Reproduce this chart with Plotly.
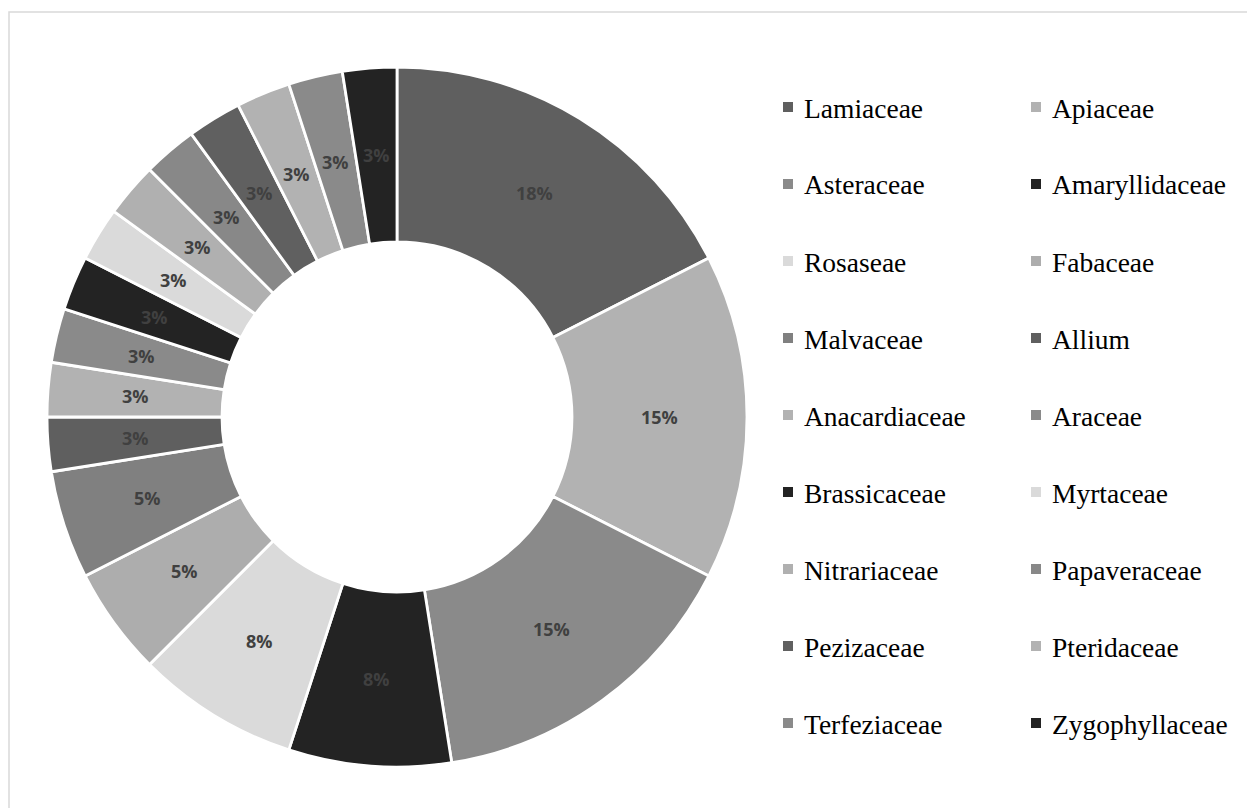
import math
import plotly.graph_objects as go

families = ["Lamiaceae", "Apiaceae", "Asteraceae", "Amaryllidaceae", "Rosaseae",
            "Fabaceae", "Malvaceae", "Allium", "Anacardiaceae", "Araceae",
            "Brassicaceae", "Myrtaceae", "Nitrariaceae", "Papaveraceae",
            "Pezizaceae", "Pteridaceae", "Terfeziaceae", "Zygophyllaceae"]
counts = [7, 6, 6, 3, 3, 2, 2, 1, 1, 1, 1, 1, 1, 1, 1, 1, 1, 1]
colors = ["#5f5f5f", "#b2b2b2", "#8a8a8a", "#232323", "#dadada",
          "#adadad", "#808080", "#5f5f5f", "#b2b2b2", "#8a8a8a",
          "#232323", "#dadada", "#b0b0b0", "#888888", "#606060",
          "#b2b2b2", "#8a8a8a", "#232323"]

W, H = 1247, 808
total = sum(counts)
pct_text = [f"{(200 * v + total) // (2 * total)}%" for v in counts]

cx, cy, R = 397, 417, 350
HOLE = 0.5

fig = go.Figure(go.Pie(
    labels=families, values=counts, text=pct_text, textinfo="none",
    sort=False, direction="clockwise", rotation=0, hole=HOLE,
    marker=dict(colors=colors, line=dict(color="white", width=2.8)),
    domain=dict(x=[(cx - R) / W, (cx + R) / W], y=[(H - cy - R) / H, (H - cy + R) / H]),
    showlegend=False, hoverinfo="label+value+percent",
))

annotations = []
# percentage labels placed at the middle of the ring, from cumulative shares
r_mid = R * (1 + HOLE) / 2
cum = 0
for v, t in zip(counts, pct_text):
    ang = 2 * math.pi * (cum + v / 2) / total
    cum += v
    px = cx + r_mid * math.sin(ang)
    py = cy - r_mid * math.cos(ang)
    annotations.append(dict(text=f"<b>{t}</b>", xref="paper", yref="paper",
                            x=px / W, y=1 - py / H, xanchor="center", yanchor="middle",
                            showarrow=False,
                            font=dict(family="Open Sans", size=18, color="#404040")))

shapes = [dict(type="rect", xref="paper", yref="paper",
               x0=9 / W, x1=1260 / W, y0=1 - 12 / H, y1=1 - 830 / H,
               line=dict(color="#d9d9d9", width=1.5), fillcolor="rgba(0,0,0,0)", layer="below")]
col_marker_x = [783, 1031]
col_text_x = [802, 1050]
row0, row_gap = 107, 77
for i, (name, c) in enumerate(zip(families, colors)):
    r, col = divmod(i, 2)
    yc = row0 + r * row_gap
    shapes.append(dict(type="rect", xref="paper", yref="paper",
                       x0=col_marker_x[col] / W, x1=(col_marker_x[col] + 10) / W,
                       y0=1 - (yc - 5) / H, y1=1 - (yc + 5) / H,
                       fillcolor=c, line=dict(width=0)))
    annotations.append(dict(text=name, xref="paper", yref="paper",
                            x=col_text_x[col] / W, y=1 - (yc + 1) / H,
                            xanchor="left", yanchor="middle", showarrow=False,
                            font=dict(family="Liberation Serif", size=27.5, color="black")))

fig.update_layout(
    width=W, height=H, margin=dict(l=0, r=0, t=0, b=0),
    paper_bgcolor="white", plot_bgcolor="white",
    annotations=annotations, shapes=shapes,
)

fig.write_html("out.html")
